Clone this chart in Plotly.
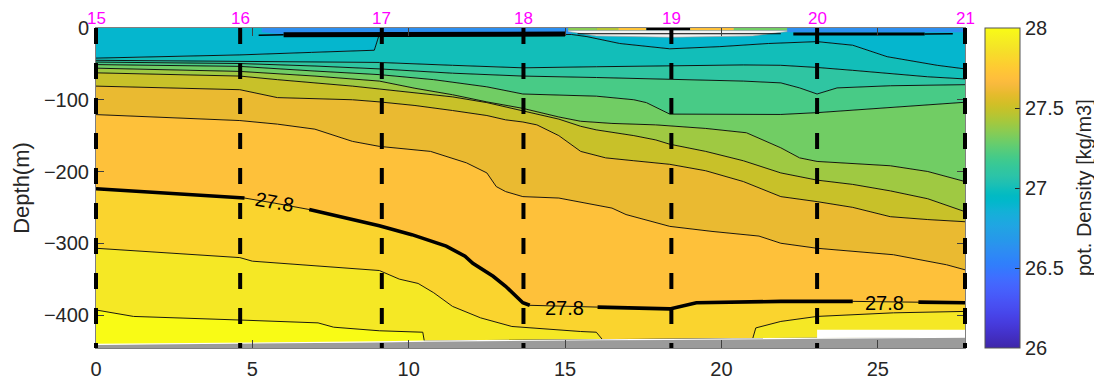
import plotly.graph_objects as go

# ---------------- data ----------------
station_names = ["15", "16", "17", "18", "19", "20", "21"]
station_km = [0, 4.61, 9.14, 13.67, 18.40, 23.06, 27.79]

x_ticks = [0, 5, 10, 15, 20, 25]
y_ticks = [0, -100, -200, -300, -400]
cbar_ticks = [26, 26.5, 27, 27.5, 28]

# isopycnal depths (m) read along the section (distance km)
iso_270_x = [0, 2.3, 4.6, 6.9, 8.9, 9.06, 12.0, 15.2, 15.7, 16.75, 18.35, 19.95, 21.5, 23.06, 24.2, 25.3, 26.9, 27.79]
iso_270_z = [-42, -40, -37.5, -34, -31, -9, -9, -9, -12, -21.6, -29, -26, -21.6, -19, -24, -40, -52, -57]

iso_271_x = [0, 2.3, 4.6, 7.0, 9.06, 11.4, 13.65, 16.0, 18.35, 20.7, 21.9, 23.06, 24.2, 25.4, 26.6, 27.79]
iso_271_z = [-45, -45.5, -46, -47, -48, -52, -55.5, -54, -52.5, -51.5, -52, -55, -59, -64, -68, -71]

iso_272_x = [0, 2.3, 4.6, 7.0, 9.06, 11.4, 13.65, 16.0, 18.35, 20.7, 21.9, 22.5, 23.06, 23.7, 25.4, 27.79]
iso_272_z = [-47.5, -48.5, -49.5, -53, -57, -63, -67, -69, -71, -74, -76.5, -83.5, -92, -83.5, -80.5, -79]

iso_273_x = [0, 2.3, 4.6, 7.0, 9.06, 10.8, 12.5, 13.65, 16.0, 17.2, 17.6, 18.35, 21.9, 23.06, 25.4, 27.79]
iso_273_z = [-51, -52, -53.5, -60, -65, -72, -82, -92, -95, -100, -104, -120, -120.5, -118, -111, -103.5]

iso_274_x = [0, 2.3, 4.6, 7.0, 9.06, 10.2, 11.4, 12.5, 13.65, 14.8, 15.5, 16.5, 17.9, 19.5, 20.8, 21.9, 22.5, 23.06, 24.2, 25.4, 26.6, 27.79]
iso_274_z = [-56, -58, -60.5, -67, -74, -84, -93, -103, -112, -124, -130, -133, -135, -140, -146, -167, -181, -186, -189, -192, -200, -214]

iso_275_x = [0, 2.3, 4.6, 5.8, 7.0, 8.2, 9.06, 10.2, 11.4, 12.5, 13.65, 14.8, 15.5, 16.0, 17.2, 17.9, 18.35, 19.5, 20.7, 21.9, 23.06, 24.2, 25.4, 26.6, 27.79]
iso_275_z = [-62.5, -64.5, -67, -72, -76, -81, -85, -90, -96, -104, -115, -127, -137, -142, -150, -156, -162, -172, -185, -202, -212, -218, -227, -238, -256]

iso_276_x = [0, 2.3, 4.6, 5.8, 7.0, 8.2, 9.06, 10.2, 11.4, 12.5, 13.1, 13.65, 14.1, 14.8, 15.5, 16.3, 17.2, 18.35, 19.5, 20.7, 21.9, 23.06, 24.2, 25.4, 26.6, 27.79]
iso_276_z = [-81, -83.5, -86, -97, -99, -100, -103, -108, -115, -122, -128, -131, -135, -150, -172, -181, -185, -190, -199, -214, -235, -242, -250, -263, -267, -270]

iso_277_x = [0, 2.3, 4.6, 5.8, 7.0, 8.2, 9.06, 10.7, 11.85, 12.5, 12.8, 13.1, 13.65, 14.8, 16.5, 16.95, 18.35, 19.7, 21.2, 21.9, 23.06, 25.5, 27.2, 27.79]
iso_277_z = [-120.7, -125, -129, -134, -141, -158, -165, -172, -188, -202, -221, -228, -235, -237, -251, -260, -276.5, -283.5, -290, -300, -307, -316, -330, -337]

iso_278_x = [0, 2.3, 4.6, 4.75, 5.7, 6.82, 8.0, 9.06, 10.1, 11.2, 11.8, 12.05, 12.7, 13.1, 13.65, 13.87, 16.04, 18.35, 19.2, 21.9, 24.2, 26.3, 27.79]
iso_278_z = [-224, -230, -236, -237, -244, -253, -265, -275.6, -288, -304, -318, -328, -346, -360, -383, -386.5, -389, -391.5, -383, -381, -381, -382, -383]

iso_279_x = [0, 2.3, 4.6, 5.0, 6.5, 7.6, 9.06, 9.7, 10.3, 10.8, 11.4, 12.3, 13.3, 15.5, 16.0, 16.2, 18.35, 21.0, 21.1, 21.9, 23.06, 25.5, 27.79]
iso_279_z = [-307, -313, -320, -325, -330, -334, -338, -350, -356, -369, -388, -404, -416, -423, -424, -434.5, -434, -433, -418, -409, -402, -397, -395]

iso_280_x = [0, 1.2, 4.6, 7.1, 7.6, 9.06, 10.45, 10.5, 13.65, 16.0, 18.35, 21.0, 23.06, 27.79]
iso_280_z = [-393, -402, -407, -411, -417, -422, -424, -436.5, -435, -434.5, -434, -433, -432, -431]

seafloor_x = [0, 4.6, 9.06, 10.5, 13.65, 16.0, 18.35, 21.0, 23.06, 27.79]
seafloor_z = [-441, -439.5, -437.5, -436.5, -435, -434.5, -434, -433, -432, -431]

levels = [27.0, 27.1, 27.2, 27.3, 27.4, 27.5, 27.6, 27.7, 27.8, 27.9, 28.0]
iso_x = [iso_270_x, iso_271_x, iso_272_x, iso_273_x, iso_274_x, iso_275_x,
         iso_276_x, iso_277_x, iso_278_x, iso_279_x, iso_280_x]
iso_z = [iso_270_z, iso_271_z, iso_272_z, iso_273_z, iso_274_z, iso_275_z,
         iso_276_z, iso_277_z, iso_278_z, iso_279_z, iso_280_z]

label_level = 27.8
label_x = [5.72, 14.98, 25.23]
label_z = [-243, -390.5, -383.5]
label_angle = [10, 0, 0]
label_gaps = [(4.75, 6.82), (13.87, 16.04), (24.2, 26.3)]

# surface-layer details (near 0 m)
surf_blue_left_x = [5.3, 5.3, 5.8, 15.2, 15.2]
surf_blue_left_z = [0, -6, -8, -8, 0]
surf_line_x = [6.0, 9.06, 15.0]
surf_line_z = [-9.5, -9.5, -8.5]
surf_thin_x = [5.2, 6.0]
surf_thin_z = [-10, -9.5]
surf_strip_edges = [15.1, 16.0, 16.7, 17.6, 19.0, 20.4, 22.1]
surf_strip_vals = [27.35, 27.45, 27.72, None, 27.7, 27.3]
lens_x = [15.1, 16.0, 18.4, 21.0, 22.1]
lens_top = [-3.5, -3.5, -3.5, -3.5, -3.5]
lens_bot = [-5, -11, -13, -11, -5]
surf_blue_right_x = [22.1, 22.1, 27.79, 27.79]
surf_blue_right_z = [0, -6, -6, 0]
surf_line_r_x = [22.3, 26.5]
surf_line_r_z = [-8.5, -8.5]
surf_line_r2_x = [26.5, 27.4]
surf_line_r2_z = [-8.5, -8]
nan_box_x = [23.06, 27.79, 27.79, 23.06]
nan_box_z = [-420.5, -420.5, -431, -432]

x_range = [0, 27.79]
y_range = [-446, 0]

PARULA64 = [
(0.2422,0.1504,0.6603),(0.2504,0.1650,0.7076),(0.2578,0.1818,0.7511),(0.2647,0.1978,0.7952),
(0.2706,0.2147,0.8364),(0.2751,0.2342,0.8710),(0.2783,0.2559,0.8991),(0.2803,0.2782,0.9221),
(0.2813,0.3006,0.9414),(0.2810,0.3228,0.9579),(0.2795,0.3447,0.9717),(0.2760,0.3667,0.9829),
(0.2699,0.3892,0.9906),(0.2602,0.4123,0.9952),(0.2440,0.4358,0.9988),(0.2206,0.4603,0.9973),
(0.1963,0.4847,0.9892),(0.1834,0.5074,0.9798),(0.1786,0.5289,0.9682),(0.1764,0.5499,0.9520),
(0.1687,0.5703,0.9359),(0.1540,0.5902,0.9218),(0.1460,0.6091,0.9079),(0.1380,0.6276,0.8973),
(0.1248,0.6459,0.8883),(0.1113,0.6635,0.8763),(0.0952,0.6798,0.8598),(0.0689,0.6948,0.8394),
(0.0297,0.7082,0.8163),(0.0036,0.7203,0.7917),(0.0067,0.7312,0.7660),(0.0433,0.7411,0.7394),
(0.0964,0.7500,0.7120),(0.1408,0.7584,0.6842),(0.1717,0.7670,0.6554),(0.1938,0.7758,0.6251),
(0.2161,0.7843,0.5923),(0.2470,0.7918,0.5567),(0.2906,0.7973,0.5188),(0.3406,0.8008,0.4789),
(0.3909,0.8029,0.4354),(0.4456,0.8024,0.3909),(0.5044,0.7993,0.3480),(0.5616,0.7942,0.3045),
(0.6174,0.7876,0.2612),(0.6720,0.7793,0.2227),(0.7242,0.7698,0.1910),(0.7738,0.7598,0.1646),
(0.8203,0.7498,0.1535),(0.8634,0.7406,0.1596),(0.9035,0.7330,0.1774),(0.9393,0.7288,0.2100),
(0.9728,0.7298,0.2394),(0.9956,0.7434,0.2371),(0.9970,0.7659,0.2199),(0.9952,0.7893,0.2028),
(0.9892,0.8136,0.1885),(0.9786,0.8386,0.1766),(0.9676,0.8639,0.1643),(0.9610,0.8890,0.1537),
(0.9597,0.9135,0.1423),(0.9628,0.9373,0.1265),(0.9691,0.9606,0.1064),(0.9769,0.9839,0.0805)]

CMIN, CMAX = 26.0, 28.0
FONT = "Liberation Sans, Arial, Helvetica, sans-serif"
DARK = "#262626"

# page body has an 8px margin: figure is sized/placed to compensate
FIG_W, FIG_H = 1094, 373
M_L, M_R, M_T, M_B = 88, 137, 20, 33
PLOT_W = FIG_W - M_L - M_R


def parula_at(v):
    t = min(max((v - CMIN) / (CMAX - CMIN), 0.0), 1.0)
    f = t * 63
    i = min(int(f), 62)
    w = f - i
    c = [(1 - w) * PARULA64[i][k] + w * PARULA64[i + 1][k] for k in range(3)]
    return "rgb(%d,%d,%d)" % tuple(round(255 * v_) for v_ in c)


colorscale = [[i / 63, "rgb(%d,%d,%d)" % tuple(round(255 * c) for c in rgb)]
              for i, rgb in enumerate(PARULA64)]

fig = go.Figure()

# surface (top of section)
fig.add_trace(go.Scatter(x=x_range, y=[0, 0], mode="lines", line=dict(width=0),
                         hoverinfo="skip", showlegend=False))
step = round(levels[1] - levels[0], 3)
for lev, xs, zs in zip(levels, iso_x, iso_z):
    fig.add_trace(go.Scatter(x=xs, y=zs, mode="lines", fill="tonexty",
                             fillcolor=parula_at(lev - step),
                             line=dict(color="black", width=0.9),
                             hoverinfo="skip", showlegend=False))
# densest band down to the seafloor
fig.add_trace(go.Scatter(x=seafloor_x, y=seafloor_z, mode="lines", fill="tonexty",
                         fillcolor=parula_at(levels[-1]),
                         line=dict(color="white", width=1.2),
                         hoverinfo="skip", showlegend=False))
# bathymetry
fig.add_trace(go.Scatter(x=x_range, y=[y_range[0], y_range[0]], mode="lines", fill="tonexty",
                         fillcolor="#9b9b9b", line=dict(width=0),
                         hoverinfo="skip", showlegend=False))

# NaN area near the bottom
fig.add_trace(go.Scatter(x=nan_box_x, y=nan_box_z, mode="lines", fill="toself",
                         fillcolor="white", line=dict(width=0),
                         hoverinfo="skip", showlegend=False))

# surface details
blue = parula_at(26.62)
fig.add_trace(go.Scatter(x=surf_blue_left_x, y=surf_blue_left_z, mode="lines", fill="toself",
                         fillcolor=blue, line=dict(width=0), hoverinfo="skip", showlegend=False))
fig.add_trace(go.Scatter(x=surf_blue_right_x, y=surf_blue_right_z, mode="lines", fill="toself",
                         fillcolor=blue, line=dict(width=0), hoverinfo="skip", showlegend=False))
for i, val in enumerate(surf_strip_vals):
    x0, x1 = surf_strip_edges[i], surf_strip_edges[i + 1]
    fig.add_trace(go.Scatter(x=[x0, x1, x1, x0], y=[0, 0, -3.5, -3.5], mode="lines",
                             fill="toself",
                             fillcolor=("black" if val is None else parula_at(val)),
                             line=dict(width=0), hoverinfo="skip", showlegend=False))
fig.add_trace(go.Scatter(x=lens_x + lens_x[::-1], y=lens_top + lens_bot[::-1], mode="lines",
                         fill="toself", fillcolor="#f2f2f2",
                         line=dict(color="#9a9a9a", width=0.6), hoverinfo="skip", showlegend=False))
fig.add_trace(go.Scatter(x=[lens_x[0] + 0.3, lens_x[-1] - 0.2], y=[-8, -8], mode="lines",
                         line=dict(color="black", width=1), hoverinfo="skip", showlegend=False))
fig.add_trace(go.Scatter(x=surf_line_x, y=surf_line_z, mode="lines",
                         line=dict(color="black", width=5), hoverinfo="skip", showlegend=False))
fig.add_trace(go.Scatter(x=surf_thin_x, y=surf_thin_z, mode="lines",
                         line=dict(color="black", width=1.5), hoverinfo="skip", showlegend=False))
fig.add_trace(go.Scatter(x=surf_line_r_x, y=surf_line_r_z, mode="lines",
                         line=dict(color="black", width=3), hoverinfo="skip", showlegend=False))
fig.add_trace(go.Scatter(x=surf_line_r2_x, y=surf_line_r2_z, mode="lines",
                         line=dict(color="black", width=1.5), hoverinfo="skip", showlegend=False))

# bold labelled isopycnal, broken where the labels sit
k = levels.index(label_level)
bx, bz = [], []
for xv, zv in zip(iso_x[k], iso_z[k]):
    if any(g[0] < xv < g[1] for g in label_gaps):
        continue
    bx.append(xv)
    bz.append(zv)
    if any(abs(xv - g[0]) < 1e-9 for g in label_gaps):
        bx.append(None)
        bz.append(None)
fig.add_trace(go.Scatter(x=bx, y=bz, mode="lines", connectgaps=False,
                         line=dict(color="black", width=3.6), hoverinfo="skip", showlegend=False))

# colour bar carrier
fig.add_trace(go.Scatter(
    x=[x_range[0]], y=[y_range[0] - 100], mode="markers", hoverinfo="skip", showlegend=False,
    marker=dict(color=[CMIN], cmin=CMIN, cmax=CMAX, colorscale=colorscale, size=1, opacity=0,
                showscale=True,
                colorbar=dict(x=1 + 20 / PLOT_W, xanchor="left", y=0.5, yanchor="middle",
                              len=1.0, lenmode="fraction", thickness=35, thicknessmode="pixels",
                              xpad=0, ypad=0, outlinewidth=1, outlinecolor="#555555",
                              tickvals=cbar_ticks, ticktext=[("%g" % t) for t in cbar_ticks],
                              ticks="inside", ticklen=5, tickcolor=DARK,
                              tickfont=dict(family=FONT, size=20, color=DARK)))))

# station dashed lines
shapes = []
for s in station_km:
    if s == station_km[0] or s == station_km[-1]:
        xr, xv = "paper", (0 if s == station_km[0] else 1)
    else:
        xr, xv = "x", s
    shapes.append(dict(type="line", xref=xr, yref="y", x0=xv, x1=xv, y0=y_range[1], y1=y_range[0],
                       line=dict(color="black", width=4, dash="16px,19px"), layer="above"))

annotations = []
for name, s in zip(station_names, station_km):
    annotations.append(dict(x=s, y=1, xref="x", yref="paper", yanchor="bottom", yshift=-2,
                            text=name, showarrow=False,
                            font=dict(family=FONT, size=17, color="#ff00ff")))
for lx, lz, la in zip(label_x, label_z, label_angle):
    annotations.append(dict(x=lx, y=lz, xref="x", yref="y", text="%g" % label_level,
                            showarrow=False, textangle=la,
                            font=dict(family=FONT, size=20, color="black")))
# colour-bar title
annotations.append(dict(x=1 + 119 / PLOT_W, y=0.5, xref="paper", yref="paper",
                        text="pot. Density [kg/m3]", textangle=-90, showarrow=False,
                        xanchor="center", yanchor="middle",
                        font=dict(family=FONT, size=20, color=DARK)))

axis_common = dict(showgrid=False, zeroline=False, showline=True, linecolor="#7f7f7f",
                   linewidth=1, mirror="ticks", ticks="inside", ticklen=8, tickwidth=1,
                   tickcolor="#404040", automargin=False,
                   tickfont=dict(family=FONT, size=20, color=DARK))

fig.update_layout(
    width=FIG_W, height=FIG_H,
    margin=dict(l=M_L, r=M_R, t=M_T, b=M_B, autoexpand=False),
    paper_bgcolor="white", plot_bgcolor="white",
    font=dict(family=FONT, color=DARK),
    xaxis=dict(range=x_range, tickvals=x_ticks, ticklabelstandoff=3, **axis_common),
    yaxis=dict(range=y_range, tickvals=y_ticks, ticklabelstandoff=2,
               title=dict(text="Depth(m)", font=dict(family=FONT, size=22, color=DARK), standoff=8),
               **axis_common),
    shapes=shapes,
    annotations=annotations,
)

fig.write_html("out.html")
